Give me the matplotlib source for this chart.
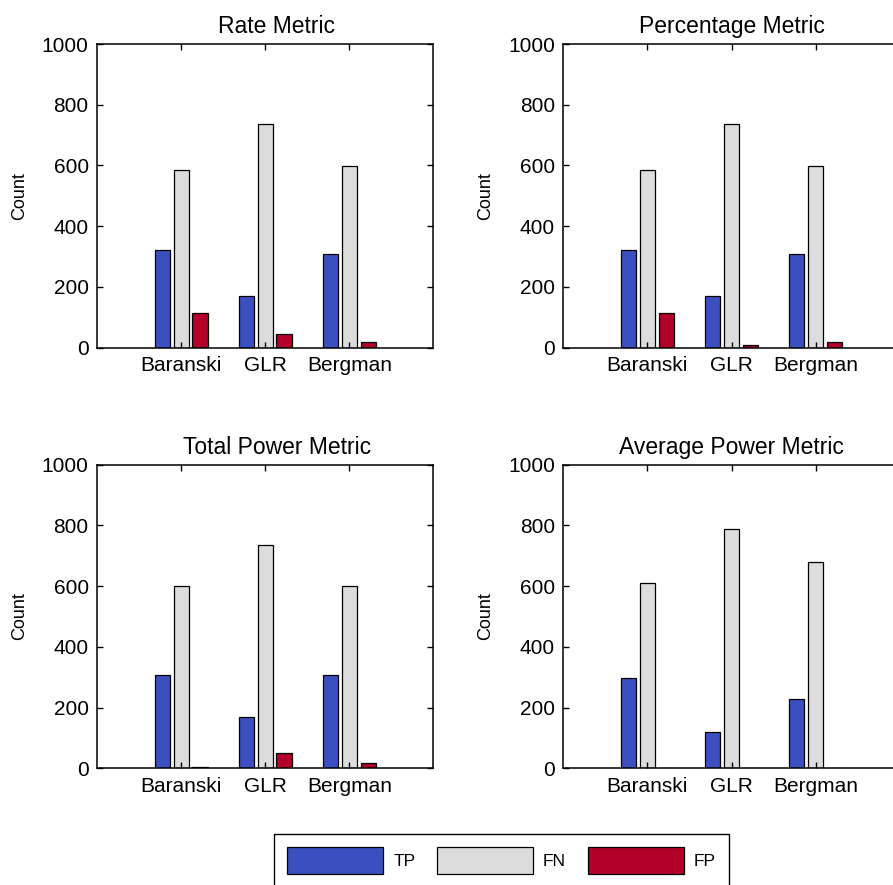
import matplotlib
matplotlib.use('Agg')
import matplotlib.pyplot as plt
import numpy as np

# Helvetica-like font, DejaVu as fallback
plt.rcParams['font.family'] = ['Liberation Sans', 'DejaVu Sans']

methods = ['Baranski', 'GLR', 'Bergman']
series = ['TP', 'FN', 'FP']
colors = ['#3b4fc1', '#dcdcdc', '#b3002a']

# counts per method, one set of lists per metric
rate_tp = [321, 170, 307]
rate_fn = [586, 735, 599]
rate_fp = [113, 45, 18]

pct_tp = [321, 170, 307]
pct_fn = [586, 736, 599]
pct_fp = [113, 10, 18]

total_tp = [307, 170, 307]
total_fn = [600, 736, 600]
total_fp = [3, 50, 17]

avg_tp = [296, 119, 228]
avg_fn = [611, 787, 679]
avg_fp = [2, 0, 0]

panels = [
    ('Rate Metric', [rate_tp, rate_fn, rate_fp]),
    ('Percentage Metric', [pct_tp, pct_fn, pct_fp]),
    ('Total Power Metric', [total_tp, total_fn, total_fp]),
    ('Average Power Metric', [avg_tp, avg_fn, avg_fp]),
]

fig = plt.figure(figsize=(8.93, 8.85), dpi=100)

# axes boxes (left, bottom) in figure fractions; right column runs off the page
boxes = [(0.1086, 0.6073), (0.6308, 0.6073), (0.1086, 0.1319), (0.6308, 0.1319)]
ax_w, ax_h = 0.3768, 0.3429

x = np.arange(1, len(methods) + 1)
offsets = [-0.224, 0.0, 0.224]
bar_w = 0.18

handles = None
for i, (title, data) in enumerate(panels):
    ax = fig.add_axes([boxes[i][0], boxes[i][1], ax_w, ax_h])
    bars = []
    for vals, off, c in zip(data, offsets, colors):
        b = ax.bar(x + off, vals, width=bar_w, color=c, edgecolor='black', linewidth=0.9)
        bars.append(b)
    if handles is None:
        handles = bars

    ax.set_xlim(0, 4)
    ax.set_ylim(0, 1000)
    ax.set_xticks(x)
    ax.set_xticklabels(methods)
    ax.set_yticks(range(0, 1001, 200))
    ax.tick_params(direction='in', top=True, right=True, length=4, width=1,
                   labelsize=15, pad=6)
    for sp in ax.spines.values():
        sp.set_linewidth(1.1)
    tx = 0.535 if i % 2 == 0 else 0.5
    ax.set_title(title, fontsize=16.5, pad=8, x=tx)
    ax.set_ylabel('Count', fontsize=13, labelpad=10)

# legend box hangs off the bottom edge
leg = fig.legend(handles, series, loc='upper center', ncol=3,
                 bbox_to_anchor=(501.5 / 893, 1 - 833.7 / 885),
                 fontsize=12.5, handlelength=5.53, handleheight=2.05,
                 handletextpad=0.58, columnspacing=1.25, borderpad=0.75,
                 borderaxespad=0, fancybox=False, framealpha=1)
leg.get_frame().set_edgecolor('black')
leg.get_frame().set_linewidth(1.0)

fig.savefig('out.png', dpi=100)
